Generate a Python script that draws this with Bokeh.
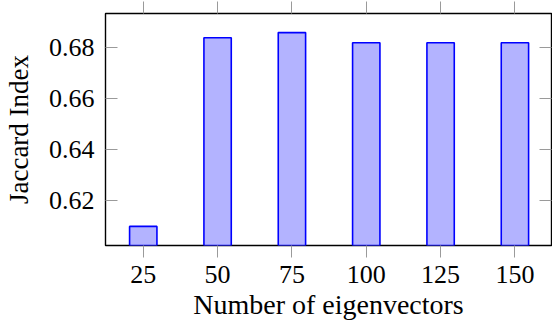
from bokeh.plotting import figure
from bokeh.models import Range1d, LinearAxis, FixedTicker, ColumnDataSource
from bokeh.embed import file_html
from bokeh.resources import INLINE

# Data
eigenvectors = [25, 50, 75, 100, 125, 150]
jaccard = [0.610, 0.684, 0.686, 0.682, 0.682, 0.682]
x_ticks = [25, 50, 75, 100, 125, 150]
y_ticks = [0.62, 0.64, 0.66, 0.68]
y_tick_labels = {0.62: "0.62", 0.64: "0.64", 0.66: "0.66", 0.68: "0.68"}

FONT = "Liberation Serif"
TICK_COLOR = "#9a9a9a"

src = ColumnDataSource(dict(x=eigenvectors, top=jaccard))

p = figure(width=552, height=322, output_backend="svg", toolbar_location=None,
           x_range=Range1d(12.3, 162.3), y_range=Range1d(0.6025, 0.6935),
           x_axis_location=None, y_axis_location=None,
           min_border_left=105, min_border_right=1, min_border_top=13, min_border_bottom=77,
           styles={"position": "absolute", "left": "0px", "top": "0px"})
p.grid.visible = False
p.outline_line_color = "black"
p.outline_line_width = 1.4
p.background_fill_color = "white"
p.border_fill_color = "white"

p.vbar(x="x", top="top", bottom=0.0, width=9.2, source=src,
       fill_color="#b3b3ff", line_color="#0000ff", line_width=1.6)

def style_axis(ax, labels=True, label_size="27px"):
    ax.axis_line_color = None
    ax.major_tick_line_color = TICK_COLOR
    ax.major_tick_line_width = 1
    ax.minor_tick_line_color = None
    ax.major_label_text_font = FONT
    ax.axis_label_text_font = FONT
    ax.axis_label_text_font_size = label_size
    ax.axis_label_text_font_style = "normal"
    ax.axis_label_text_color = "black"
    if labels:
        ax.major_label_text_font_size = "26px"
        ax.major_label_text_color = "black"
    else:
        ax.major_label_text_font_size = "0px"
        ax.major_label_text_color = None

xb = LinearAxis(ticker=FixedTicker(ticks=x_ticks), axis_label="Number of eigenvectors")
style_axis(xb, label_size="28px")
xb.major_tick_out = 12
xb.major_tick_in = 0
xb.major_label_standoff = 8
xb.axis_label_standoff = 3
p.add_layout(xb, "below")

xt = LinearAxis(ticker=FixedTicker(ticks=x_ticks))
style_axis(xt, labels=False)
xt.major_tick_out = 12
xt.major_tick_in = 0
xt.major_label_standoff = 0
p.add_layout(xt, "above")

yl = LinearAxis(ticker=FixedTicker(ticks=y_ticks), axis_label="Jaccard Index")
style_axis(yl)
yl.major_label_overrides = y_tick_labels
yl.major_tick_out = 0
yl.major_tick_in = 12
yl.major_label_standoff = 11
yl.axis_label_standoff = 12
p.add_layout(yl, "left")

yr = LinearAxis(ticker=FixedTicker(ticks=y_ticks))
style_axis(yr, labels=False)
yr.major_tick_out = 0
yr.major_tick_in = 12
yr.major_label_standoff = 0
p.add_layout(yr, "right")

open("out.html", "w").write(file_html(p, INLINE))
